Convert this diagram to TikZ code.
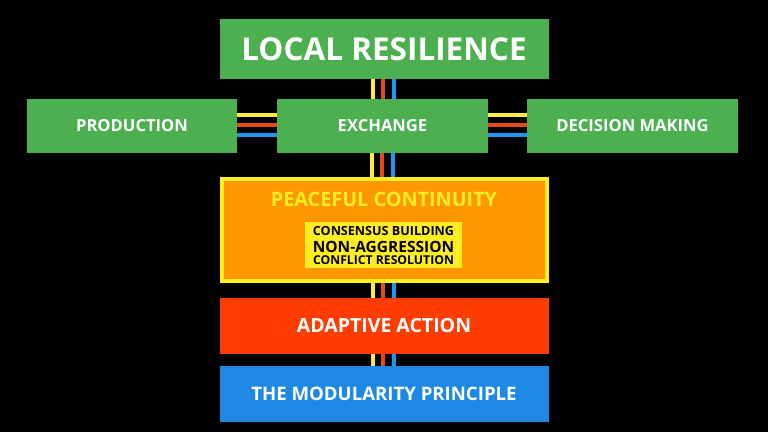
\documentclass[tikz,border=0pt]{standalone}
\usepackage{fontspec}
\setmainfont{Open Sans}
\definecolor{bggreen}{HTML}{4CAF50}
\definecolor{pcorange}{HTML}{FF9800}
\definecolor{pcyellow}{HTML}{FFEE22}
\definecolor{aared}{HTML}{FF3D00}
\definecolor{mpblue}{HTML}{1E88E5}
\definecolor{lnyellow}{HTML}{FFEB3B}
\definecolor{lnred}{HTML}{E64A19}
\definecolor{lnblue}{HTML}{2196F3}
\begin{document}
\begin{tikzpicture}[x=1pt,y=-1pt,
  box/.style={draw=none,inner sep=0pt,font=\bfseries,text=white,align=center},
  gbox/.style={box,fill=bggreen},
  yl/.style={draw=lnyellow,line width=4pt},
  rl/.style={draw=lnred,line width=4pt},
  bl/.style={draw=lnblue,line width=4pt}]
\fill[black] (0,0) rectangle (768,432);
\useasboundingbox (0,0) rectangle (768,432);
% boxes
\node[gbox,minimum width=329,minimum height=60,font=\bfseries\fontsize{31.5}{34}\selectfont] (top) at (384,49) {LOCAL RESILIENCE};
\node[gbox,minimum width=210,minimum height=54,font=\bfseries\fontsize{16.6}{18}\selectfont] (prod) at (132,126) {PRODUCTION};
\node[gbox,minimum width=211,minimum height=54,font=\bfseries\fontsize{16.6}{18}\selectfont] (exch) at (382.5,126) {EXCHANGE};
\node[gbox,minimum width=211,minimum height=54,font=\bfseries\fontsize{16.6}{18}\selectfont] (dec) at (632.5,126) {DECISION MAKING};
\node[box,fill=pcorange,draw=pcyellow,line width=4pt,minimum width=325,minimum height=102] (peace) at (384,230) {};
\node[box,fill=aared,minimum width=329,minimum height=56,font=\bfseries\fontsize{19.5}{22}\selectfont] (adapt) at (384,326) {ADAPTIVE ACTION};
\node[box,fill=mpblue,minimum width=329,minimum height=56,font=\bfseries\fontsize{18.6}{22}\selectfont] (mod) at (384,394) {THE MODULARITY PRINCIPLE};
\node[box,text=pcyellow,font=\bfseries\fontsize{19.8}{22}\selectfont] (ptitle) at (384,199) {PEACEFUL CONTINUITY};
\node[box,fill=pcyellow,text=black,minimum width=157,minimum height=46,font=\bfseries\fontsize{12.6}{12}\selectfont] (inner) at (383.5,245)
  {CONSENSUS BUILDING\\[5pt]
   {\fontsize{15.5}{12}\selectfont NON-AGGRESSION}\\
   {\fontsize{12.2}{12}\selectfont CONFLICT RESOLUTION}};
% vertical connectors
\foreach \a/\b in {top/exch,exch/peace,peace/adapt,adapt/mod}{
  \draw[yl] ([xshift=-11pt]\a.south) -- ([xshift=-11pt]\a.south |- \b.north);
  \draw[rl] ([xshift=-1pt]\a.south) -- ([xshift=-1pt]\a.south |- \b.north);
  \draw[bl] ([xshift=10pt]\a.south) -- ([xshift=10pt]\a.south |- \b.north);
}
% horizontal connectors
\foreach \a/\b in {prod/exch,exch/dec}{
  \draw[yl] ([yshift=11pt]\a.east) -- ([yshift=11pt]\a.east -| \b.west);
  \draw[rl] ([yshift=1pt]\a.east) -- ([yshift=1pt]\a.east -| \b.west);
  \draw[bl] ([yshift=-9pt]\a.east) -- ([yshift=-9pt]\a.east -| \b.west);
}
\end{tikzpicture}
\end{document}
